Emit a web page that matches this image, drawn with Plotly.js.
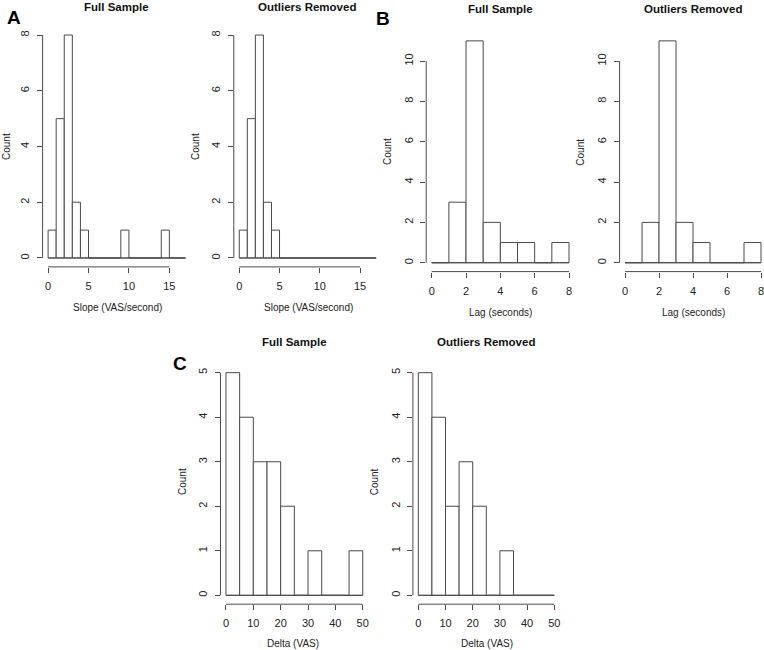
<!DOCTYPE html>
<html>
<head>
<meta charset="utf-8">
<script src="https://cdn.plot.ly/plotly-3.0.1.min.js"></script>
<style>html,body{margin:0;padding:0;background:#fff;}#chart{width:764px;height:650px;}</style>
</head>
<body>
<div id="chart"></div>
<script>
// ---- Data (histogram bin counts) ----
const slopeBinWidth = 1;
const slopeFullCounts = [1, 5, 8, 2, 1, 0, 0, 0, 0, 1, 0, 0, 0, 0, 1, 0, 0];
const slopeOutCounts  = [1, 5, 8, 2, 1, 0, 0, 0, 0, 0, 0, 0, 0, 0, 0, 0, 0];
const lagBinWidth = 1;
const lagFullCounts = [0, 3, 11, 2, 1, 1, 0, 1];
const lagOutCounts  = [0, 2, 11, 2, 1, 0, 0, 1];
const deltaBinWidth = 5;
const deltaFullCounts = [5, 4, 3, 3, 2, 0, 1, 0, 0, 1];
const deltaOutCounts  = [5, 4, 2, 3, 2, 0, 1, 0, 0, 0];

const slopeXTicks = [0, 5, 10, 15];
const slopeYTicks = [0, 2, 4, 6, 8];
const lagXTicks = [0, 2, 4, 6, 8];
const lagYTicks = [0, 2, 4, 6, 8, 10];
const deltaXTicks = [0, 10, 20, 30, 40, 50];
const deltaYTicks = [0, 1, 2, 3, 4, 5];

const titleFull = "Full Sample";
const titleOut = "Outliers Removed";
const slopeLabel = "Slope (VAS/second)";
const lagLabel = "Lag (seconds)";
const deltaLabel = "Delta (VAS)";
const countLabel = "Count";

// ---- Layout geometry (pixels) ----
const W = 764, H = 650;
const px = p => p / W;
const py = p => 1 - p / H;

const panels = [
  {counts: slopeFullCounts, bw: slopeBinWidth, xt: slopeXTicks, yt: slopeYTicks, title: titleFull, xlab: slopeLabel,
   dom: [42.6, 191], xr: [-0.68, 17.68], ydom: [26.1, 266.9], yr: [-0.32, 8.32],
   tpos: [116.7, 7], xlpos: [117, 307], ylpos: [6, 147]},
  {counts: slopeOutCounts, bw: slopeBinWidth, xt: slopeXTicks, yt: slopeYTicks, title: titleOut, xlab: slopeLabel,
   dom: [233.8, 381.6], xr: [-0.68, 17.68], ydom: [26.1, 266.9], yr: [-0.32, 8.32],
   tpos: [306.7, 7], xlpos: [308, 307], ylpos: [195, 147]},
  {counts: lagFullCounts, bw: lagBinWidth, xt: lagXTicks, yt: lagYTicks, title: titleFull, xlab: lagLabel,
   dom: [426.2, 574.5], xr: [-0.32, 8.32], ydom: [32.0, 271.6], yr: [-0.44, 11.44],
   tpos: [500, 9.5], xlpos: [500, 312], ylpos: [388, 152]},
  {counts: lagOutCounts, bw: lagBinWidth, xt: lagXTicks, yt: lagYTicks, title: titleOut, xlab: lagLabel,
   dom: [619.6, 764], xr: [-0.32, 8.176], ydom: [32.0, 271.6], yr: [-0.44, 11.44],
   tpos: [692.7, 9.5], xlpos: [693, 312], ylpos: [580.7, 152]},
  {counts: deltaFullCounts, bw: deltaBinWidth, xt: deltaXTicks, yt: deltaYTicks, title: titleFull, xlab: deltaLabel,
   dom: [220.5, 368.2], xr: [-2, 52], ydom: [363.8, 604.2], yr: [-0.2, 5.2],
   tpos: [294, 341.7], xlpos: [293.3, 643], ylpos: [182, 482]},
  {counts: deltaOutCounts, bw: deltaBinWidth, xt: deltaXTicks, yt: deltaYTicks, title: titleOut, xlab: deltaLabel,
   dom: [412.9, 559.7], xr: [-2, 52], ydom: [363.8, 604.2], yr: [-0.2, 5.2],
   tpos: [486, 341.7], xlpos: [486.7, 643], ylpos: [374.3, 482]}
];

const lineCol = "#4a4a4a";
const textCol = "#222";
const fontFam = "Liberation Sans, Arial, sans-serif";

const traces = [];
const layout = {
  width: W, height: H,
  margin: {l: 0, r: 0, t: 0, b: 0},
  paper_bgcolor: "#fff", plot_bgcolor: "#fff",
  showlegend: false,
  font: {family: fontFam, color: textCol},
  shapes: [], annotations: []
};

panels.forEach((p, i) => {
  const n = i + 1;
  const xa = "x" + (n === 1 ? "" : n), ya = "y" + (n === 1 ? "" : n);
  const xk = "xaxis" + (n === 1 ? "" : n), yk = "yaxis" + (n === 1 ? "" : n);
  const starts = p.counts.map((c, k) => k * p.bw);
  traces.push({
    type: "bar", x: starts, y: p.counts, offset: 0, width: p.bw,
    xaxis: xa, yaxis: ya,
    marker: {color: "#fff", line: {color: lineCol, width: 1}},
    hoverinfo: "x+y"
  });
  // baseline across all bins (R draws zero-height bins as a line)
  traces.push({
    type: "scatter", mode: "lines", x: [starts[0], starts[starts.length - 1] + p.bw], y: [0, 0],
    xaxis: xa, yaxis: ya, line: {color: lineCol, width: 1}, hoverinfo: "skip"
  });
  layout[xk] = {
    domain: [px(p.dom[0]), px(p.dom[1])], range: p.xr, anchor: ya,
    showgrid: false, zeroline: false, showline: false,
    tickmode: "array", tickvals: p.xt, ticks: "outside", ticklen: 5, tickcolor: lineCol,
    tickfont: {size: 11, color: textCol, family: fontFam}, ticklabelstandoff: 4,
    ticklabeloverflow: "allow", fixedrange: true
  };
  layout[yk] = {
    domain: [py(p.ydom[1]), py(p.ydom[0])], range: p.yr, anchor: xa,
    showgrid: false, zeroline: false, showline: false,
    tickmode: "array", tickvals: p.yt, ticks: "outside", ticklen: 5, tickcolor: lineCol, tickangle: -90,
    tickfont: {size: 11, color: textCol, family: fontFam}, ticklabelstandoff: 3,
    ticklabeloverflow: "allow", fixedrange: true
  };
  // axis lines spanning first to last tick (R style)
  layout.shapes.push({type: "line", xref: xa, yref: "paper",
    x0: p.xt[0], x1: p.xt[p.xt.length - 1], y0: py(p.ydom[1]), y1: py(p.ydom[1]),
    line: {color: lineCol, width: 1}});
  layout.shapes.push({type: "line", xref: "paper", yref: ya,
    x0: px(p.dom[0]), x1: px(p.dom[0]), y0: p.yt[0], y1: p.yt[p.yt.length - 1],
    line: {color: lineCol, width: 1}});
  layout.annotations.push({text: "<b>" + p.title + "</b>", xref: "paper", yref: "paper",
    x: px(p.tpos[0]), y: py(p.tpos[1]), xanchor: "center", yanchor: "middle", showarrow: false,
    font: {size: 11.5, color: "#111", family: fontFam}});
  layout.annotations.push({text: p.xlab, xref: "paper", yref: "paper",
    x: px(p.xlpos[0]), y: py(p.xlpos[1]), xanchor: "center", yanchor: "middle", showarrow: false,
    font: {size: 10, color: textCol, family: fontFam}});
  layout.annotations.push({text: countLabel, xref: "paper", yref: "paper", textangle: -90,
    x: px(p.ylpos[0]), y: py(p.ylpos[1]), xanchor: "center", yanchor: "middle", showarrow: false,
    font: {size: 10, color: textCol, family: fontFam}});
});

const letters = [["A", 14, 17], ["B", 382.7, 18.3], ["C", 180, 363]];
letters.forEach(l => layout.annotations.push({text: "<b>" + l[0] + "</b>", xref: "paper", yref: "paper",
  x: px(l[1]), y: py(l[2]), xanchor: "center", yanchor: "middle", showarrow: false,
  font: {size: 19, color: "#000", family: fontFam}}));

Plotly.newPlot("chart", traces, layout, {staticPlot: true, displayModeBar: false});
</script>
</body>
</html>
